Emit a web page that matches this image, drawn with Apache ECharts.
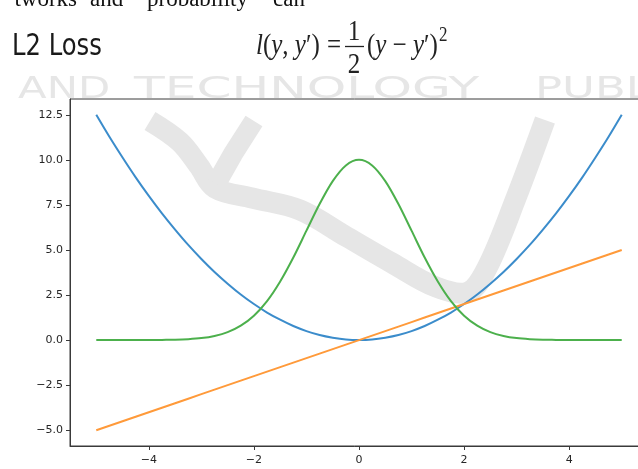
<!DOCTYPE html>
<html>
<head>
<meta charset="utf-8">
<script src="https://cdn.jsdelivr.net/npm/echarts@6/dist/echarts.min.js"></script>
<style>
html,body{margin:0;padding:0;background:#fff;}
#c{width:638px;height:469px;}
</style>
</head>
<body>
<div id="c"></div>
<script>
// ---- data ----
const xs = [-5,-4.75,-4.5,-4.25,-4,-3.75,-3.5,-3.25,-3,-2.75,-2.5,-2.25,-2,-1.75,-1.5,-1.25,-1,-0.75,-0.5,-0.25,0,0.25,0.5,0.75,1,1.25,1.5,1.75,2,2.25,2.5,2.75,3,3.25,3.5,3.75,4,4.25,4.5,4.75,5];
const lossL2 = [12.5,11.28,10.13,9.03,8,7.03,6.13,5.28,4.5,3.78,3.13,2.53,2,1.53,1.13,0.78,0.5,0.28,0.13,0.03,0,0.03,0.13,0.28,0.5,0.78,1.13,1.53,2,2.53,3.13,3.78,4.5,5.28,6.13,7.03,8,9.03,10.13,11.28,12.5];
const derivL2 = [-5,-4.75,-4.5,-4.25,-4,-3.75,-3.5,-3.25,-3,-2.75,-2.5,-2.25,-2,-1.75,-1.5,-1.25,-1,-0.75,-0.5,-0.25,0,0.25,0.5,0.75,1,1.25,1.5,1.75,2,2.25,2.5,2.75,3,3.25,3.5,3.75,4,4.25,4.5,4.75,5];
const likeL2 = [0,0,0,0,0,0.01,0.02,0.05,0.11,0.23,0.44,0.8,1.35,2.16,3.25,4.58,6.07,7.55,8.82,9.69,10,9.69,8.82,7.55,6.07,4.58,3.25,2.16,1.35,0.8,0.44,0.23,0.11,0.05,0.02,0.01,0,0,0,0,0];
const xTicks = [-4,-2,0,2,4];
const yTicks = [-5,-2.5,0,2.5,5,7.5,10,12.5];

const pair = arr => xs.map((x,i)=>[x, arr[i]]);
const minus = s => s.replace('-', '\u2212');

const chart = echarts.init(document.getElementById('c'), null, {renderer:'canvas'});
const axisColor = '#3a3a3a';
const labelStyle = {color:'#262626', fontSize:11, fontFamily:'"DejaVu Sans", sans-serif'};
const serif = '"Liberation Serif", "Times New Roman", serif';
const wm = '#e6e6e6';
const ink = '#222';

const option = {
  animation:false,
  backgroundColor:'#fff',
  grid:{left:70, top:99, width:578, height:347, show:true, borderColor:axisColor, borderWidth:1, backgroundColor:'transparent', outerBoundsMode:'none', containLabel:false},
  xAxis:{
    type:'value', min:-5.5, max:5.5,
    axisLine:{show:true, onZero:false, lineStyle:{color:axisColor, width:1}},
    axisTick:{show:true, customValues:xTicks, length:4, lineStyle:{color:axisColor}},
    axisLabel:{customValues:xTicks, margin:9, formatter:v=>minus(String(v)), ...labelStyle},
    splitLine:{show:false}
  },
  yAxis:{
    type:'value', min:-5.875, max:13.375,
    axisLine:{show:true, onZero:false, lineStyle:{color:axisColor, width:1}},
    axisTick:{show:true, customValues:yTicks, length:4, lineStyle:{color:axisColor}},
    axisLabel:{customValues:yTicks, margin:7, formatter:v=>minus(Number(v).toFixed(1)), ...labelStyle},
    splitLine:{show:false}
  },
  series:[
    {type:'line', data:pair(lossL2), showSymbol:false, smooth:0.3, lineStyle:{color:'#3b8ccb', width:2}, z:3},
    {type:'line', data:pair(derivL2), showSymbol:false, lineStyle:{color:'#ff9a3a', width:2}, z:3},
    {type:'line', data:pair(likeL2), showSymbol:false, smooth:0.3, lineStyle:{color:'#4cb04c', width:2}, z:3}
  ],
  graphic:[
    // watermark swoosh
    {type:'polyline', z:1, silent:true, shape:{smooth:0.35, points:[[150,121],[180,142],[199,166],[215,188],[252,198],[300,210],[347,237],[392,263],[436,287],[468,292],[487,268],[516,198],[545,120]]}, style:{stroke:wm, lineWidth:21, fill:null, lineCap:'butt', lineJoin:'round'}},
    {type:'polyline', z:1, silent:true, shape:{points:[[254,121],[233,154],[216,184]]}, style:{stroke:wm, lineWidth:20, fill:null, lineCap:'butt'}},
    // watermark text
    {type:'text', z:1, silent:true, x:18, y:90, scaleX:1.35, style:{text:'AND', fill:wm, font:'31px "DejaVu Sans", sans-serif', verticalAlign:'middle'}},
    {type:'text', z:1, silent:true, x:134, y:90, scaleX:1.62, style:{text:'TECHNOLOGY', fill:wm, font:'31px "DejaVu Sans", sans-serif', verticalAlign:'middle'}},
    {type:'text', z:1, silent:true, x:535, y:90, scaleX:1.45, style:{text:'PUBL', fill:wm, font:'31px "DejaVu Sans", sans-serif', verticalAlign:'middle'}},
    // cut-off body text at the very top
    {type:'text', z:5, x:77, y:0, style:{text:'tworks', fill:'#111', font:'23px '+serif, align:'right', verticalAlign:'middle'}},
    {type:'text', z:5, x:90, y:0, style:{text:'and', fill:'#111', font:'23px '+serif, verticalAlign:'middle'}},
    {type:'text', z:5, x:147, y:0, style:{text:'probability', fill:'#111', font:'23px '+serif, verticalAlign:'middle'}},
    {type:'text', z:5, x:273, y:0, style:{text:'can', fill:'#111', font:'23px '+serif, verticalAlign:'middle'}},
    // title
    {type:'text', z:5, x:12, y:47, scaleX:0.87, style:{text:'L2 Loss', fill:'#1a1a1a', font:'31px "Liberation Sans Narrow", "DejaVu Sans Condensed", sans-serif', verticalAlign:'middle'}},
    // formula
    {type:'text', z:5, x:256, y:46, scaleY:1.2, style:{text:'{i|l}({i|y}, {i|y}\u2032)', fill:ink, font:'25px '+serif, verticalAlign:'middle', rich:{i:{fontStyle:'italic', font:'italic 25px '+serif, fill:ink}}}},
    {type:'text', z:5, x:327, y:46, scaleY:1.2, style:{text:'=', fill:ink, font:'25px '+serif, verticalAlign:'middle'}},
    {type:'text', z:5, x:354, y:32, scaleY:1.2, style:{text:'1', fill:ink, font:'25px '+serif, align:'center', verticalAlign:'middle'}},
    {type:'line', z:5, shape:{x1:345, y1:46.5, x2:364, y2:46.5}, style:{stroke:ink, lineWidth:1.3}},
    {type:'text', z:5, x:354, y:65, scaleY:1.2, style:{text:'2', fill:ink, font:'25px '+serif, align:'center', verticalAlign:'middle'}},
    {type:'text', z:5, x:367, y:46, scaleY:1.2, style:{text:'({i|y} \u2212 {i|y}\u2032)', fill:ink, font:'25px '+serif, verticalAlign:'middle', rich:{i:{fontStyle:'italic', font:'italic 25px '+serif, fill:ink}}}},
    {type:'text', z:5, x:439, y:36, scaleY:1.2, style:{text:'2', fill:ink, font:'17px '+serif, verticalAlign:'middle'}}
  ]
};
chart.setOption(option);
</script>
</body>
</html>
